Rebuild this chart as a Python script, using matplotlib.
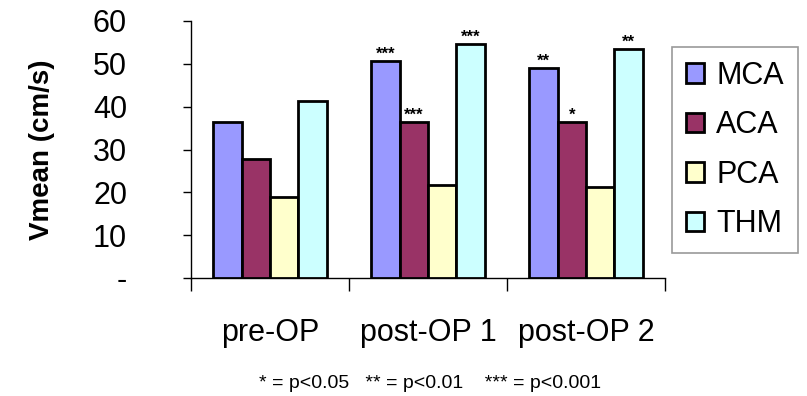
import matplotlib.pyplot as plt
import numpy as np

plt.rcParams['font.family'] = ['Liberation Sans', 'DejaVu Sans']

groups = ['pre-OP', 'post-OP 1', 'post-OP 2']
series = ['MCA', 'ACA', 'PCA', 'THM']
colors = ['#9999FF', '#993366', '#FFFFCC', '#CCFFFF']
values = {
    'MCA': [36.5, 50.7, 49.1],
    'ACA': [27.7, 36.5, 36.5],
    'PCA': [19.0, 21.8, 21.2],
    'THM': [41.4, 54.6, 53.5],
}
stars = {
    'MCA': ['', '***', '**'],
    'ACA': ['', '***', '*'],
    'PCA': ['', '', ''],
    'THM': ['', '***', '**'],
}
yticks = [0, 10, 20, 30, 40, 50, 60]
ytick_labels = ['-', '10', '20', '30', '40', '50', '60']

fig = plt.figure(figsize=(8.07, 3.96), dpi=100)
ax = fig.add_axes([191/807, 1 - 278/396, (665 - 191)/807, (278 - 21)/396])

w = 0.18
x = np.arange(len(groups)) + 0.5
for i, s in enumerate(series):
    xs = x + (i - 1.5) * w
    ax.bar(xs, values[s], w, color=colors[i], edgecolor='black', linewidth=2.0,
           label=s, zorder=3)
    for xi, v, t in zip(xs, values[s], stars[s]):
        if t:
            ax.annotate(t, (xi, v), xytext=(0, 1.5), textcoords='offset points',
                        ha='center', va='baseline', fontsize=12,
                        fontweight='bold')

ax.set_xlim(0, 3)
ax.set_ylim(0, 60)
ax.set_yticks(yticks)
ax.set_yticklabels(ytick_labels, fontsize=22)
ax.set_xticks([0, 1, 2, 3])
ax.set_xticklabels([])
ax.set_xticks(x, minor=True)
ax.set_xticklabels(groups, minor=True, fontsize=22)
ax.tick_params(axis='x', which='major', length=9, width=1, direction='out')
ax.tick_params(axis='x', which='minor', length=0, pad=29)
ax.tick_params(axis='y', length=6, width=1, pad=40)

for sp in ['top', 'right']:
    ax.spines[sp].set_visible(False)
ax.spines['left'].set_linewidth(1)
ax.spines['bottom'].set_linewidth(1)

ax.set_ylabel('Vmean (cm/s)', fontsize=20, fontweight='bold', labelpad=27)

leg = ax.legend(loc='upper left', bbox_to_anchor=(672/807, 1 - 47/396),
                bbox_transform=fig.transFigure, fontsize=22, frameon=True,
                fancybox=False, edgecolor='#808080', handlelength=0.6,
                handleheight=0.6, handletextpad=0.4, labelspacing=0.64,
                borderpad=0.45, borderaxespad=0)
leg.get_frame().set_linewidth(1.2)

fig.text(430/807, 1 - 383/396, '* = p<0.05   ** = p<0.01    *** = p<0.001',
         ha='center', va='center', fontsize=14)

fig.savefig('out.png', dpi=100)
